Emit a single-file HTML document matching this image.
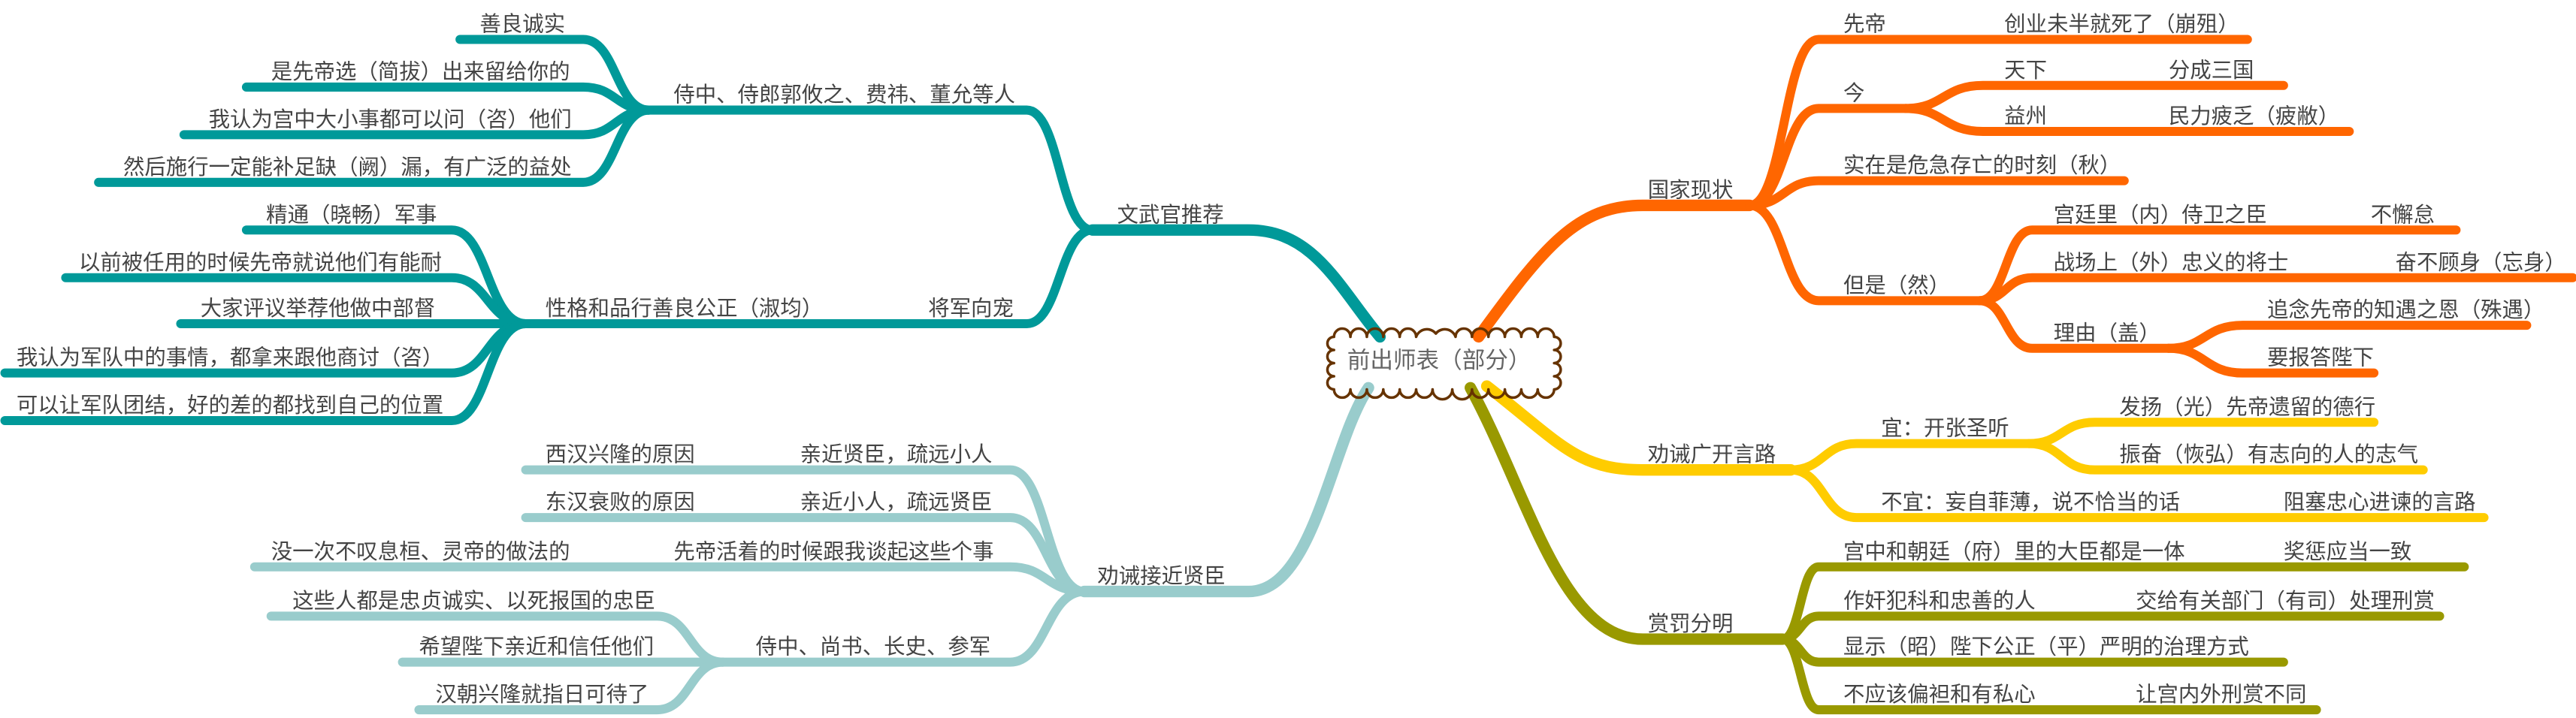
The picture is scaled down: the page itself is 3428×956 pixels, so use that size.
<!DOCTYPE html>
<html><head><meta charset="utf-8"><style>
html,body{margin:0;padding:0;background:#fff;}
svg{display:block;}
text{font-family:"Liberation Sans","Noto Sans CJK SC",sans-serif;font-size:13px;fill:#444;}
path{fill:none;stroke-linecap:round;stroke-linejoin:round;}
</style></head><body>
<svg width="3428" height="956" viewBox="0 0 1568 437" preserveAspectRatio="none" xmlns="http://www.w3.org/2000/svg">
<!-- main branches -->
<path d="M840,205 C815,175 800,140 760,140 H665" stroke="#009999" stroke-width="7"/>
<path d="M833,236 C810,270 800,360 760,360 H660" stroke="#99CCCC" stroke-width="7"/>
<path d="M900,205 C940,150 960,125 1000,125 H1065" stroke="#FF6600" stroke-width="7"/>
<path d="M905,235 C950,270 960,286 1000,286 H1090" stroke="#FFCC00" stroke-width="7"/>
<path d="M895,236 C930,300 950,389 1000,389 H1085" stroke="#999900" stroke-width="7"/>

<!-- orange -->
<g stroke="#FF6600" stroke-width="5.5">
<path d="M1065,125 C1086,125 1086,24 1107,24 H1368"/>
<path d="M1065,125 C1086,125 1086,66 1107,66 H1160"/>
<path d="M1160,66 C1183,66 1183,52 1207,52 H1390"/>
<path d="M1160,66 C1183,66 1183,80 1207,80 H1430"/>
<path d="M1065,125 C1086,125 1086,110 1107,110 H1293"/>
<path d="M1065,125 C1086,125 1086,183 1107,183 H1205"/>
<path d="M1205,183 C1221,183 1221,140 1237,140 H1495"/>
<path d="M1205,183 C1221,183 1221,169 1237,169 H1566"/>
<path d="M1205,183 C1221,183 1221,212 1237,212 H1320"/>
<path d="M1320,212 C1342,212 1342,198 1365,198 H1538"/>
<path d="M1320,212 C1342,212 1342,227 1365,227 H1445"/>
</g>
<!-- yellow -->
<g stroke="#FFCC00" stroke-width="5.5">
<path d="M1090,286 C1110,286 1110,270 1130,270 H1235"/>
<path d="M1235,270 C1255,270 1255,257 1275,257 H1445"/>
<path d="M1235,270 C1255,270 1255,286 1275,286 H1475"/>
<path d="M1090,286 C1110,286 1110,315 1130,315 H1512"/>
</g>
<!-- olive -->
<g stroke="#999900" stroke-width="5.5">
<path d="M1085,389 C1096,389 1096,345 1107,345 H1500"/>
<path d="M1085,389 C1096,389 1096,375 1107,375 H1485"/>
<path d="M1085,389 C1096,389 1096,403 1107,403 H1390"/>
<path d="M1085,389 C1096,389 1096,432 1107,432 H1410"/>
</g>
<!-- teal left -->
<g stroke="#009999" stroke-width="5.5">
<path d="M665,140 C645,140 645,67 625,67 H395"/>
<path d="M395,67 C375,67 375,24 355,24 H280"/>
<path d="M395,67 C375,67 375,53 355,53 H150"/>
<path d="M395,67 C375,67 375,82 355,82 H112"/>
<path d="M395,67 C375,67 375,111 355,111 H60"/>
<path d="M665,140 C645,140 645,197 625,197 H320"/>
<path d="M320,197 C297,197 297,140 275,140 H150"/>
<path d="M320,197 C297,197 297,169 275,169 H40"/>
<path d="M320,197 C297,197 297,197 275,197 H110"/>
<path d="M320,197 C297,197 297,227 275,227 H3"/>
<path d="M320,197 C297,197 297,256 275,256 H3"/>
</g>
<!-- light teal left -->
<g stroke="#99CCCC" stroke-width="5.5">
<path d="M660,360 C637,360 637,286 615,286 H320"/>
<path d="M660,360 C637,360 637,315 615,315 H320"/>
<path d="M660,360 C637,360 637,345 615,345 H155"/>
<path d="M660,360 C637,360 637,403 615,403 H440"/>
<path d="M440,403 C420,403 420,375 400,375 H165"/>
<path d="M440,403 C420,403 420,403 400,403 H245"/>
<path d="M440,403 C420,403 420,432 400,432 H255"/>
</g>

<!-- root cloud -->
<path d="M812,205 a5,5 0 0,1 10,0 a5,5 0 0,1 10,0 a5,5 0 0,1 10,0 a5,5 0 0,1 10,0 a5,5 0 0,1 10,0 a7,7 0 0,1 12,-2 a7,7 0 0,1 12,2 a5,5 0 0,1 10,0 a5,5 0 0,1 10,0 a5,5 0 0,1 10,0 a5,5 0 0,1 10,0 a5,5 0 0,1 10,0 a5,5 0 0,1 10,0
 a4,4 0 0,1 0,8 a4,4 0 0,1 0,8 a4,4 0 0,1 0,8 a4,4 0 0,1 0,8
 a5,5 0 0,1 -10,0 a5,5 0 0,1 -10,0 a5,5 0 0,1 -10,0 a5,5 0 0,1 -10,0 a5,5 0 0,1 -10,0 a6,6 0 0,1 -12,0 a6,6 0 0,1 -12,0 a5,5 0 0,1 -10,0 a5,5 0 0,1 -10,0 a5,5 0 0,1 -10,0 a5,5 0 0,1 -10,0 a5,5 0 0,1 -10,0 a5,5 0 0,1 -10,0
 a4,4 0 0,1 0,-8 a4,4 0 0,1 0,-8 a4,4 0 0,1 0,-8 a4,4 0 0,1 0,-8 Z" fill="#fff" stroke="#663300" stroke-width="1.6"/>
<text x="876" y="224" text-anchor="middle" style="font-size:14px;fill:#666">前出师表（部分）</text>

<!-- main labels -->
<text x="1003" y="120">国家现状</text>
<text x="1003" y="281">劝诫广开言路</text>
<text x="1003" y="384">赏罚分明</text>
<text x="680" y="135">文武官推荐</text>
<text x="668" y="355">劝诫接近贤臣</text>

<!-- orange texts -->
<text x="1122" y="19">先帝</text><text x="1220" y="19">创业未半就死了（崩殂）</text>
<text x="1122" y="61">今</text>
<text x="1220" y="47">天下</text><text x="1320" y="47">分成三国</text>
<text x="1220" y="75">益州</text><text x="1320" y="75">民力疲乏（疲敝）</text>
<text x="1122" y="105">实在是危急存亡的时刻（秋）</text>
<text x="1122" y="178">但是（然）</text>
<text x="1250" y="135">宫廷里（内）侍卫之臣</text><text x="1443" y="135">不懈怠</text>
<text x="1250" y="164">战场上（外）忠义的将士</text><text x="1458" y="164">奋不顾身（忘身）</text>
<text x="1250" y="207">理由（盖）</text>
<text x="1380" y="193">追念先帝的知遇之恩（殊遇）</text>
<text x="1380" y="222">要报答陛下</text>

<!-- yellow texts -->
<text x="1145" y="265">宜：开张圣听</text>
<text x="1290" y="252">发扬（光）先帝遗留的德行</text>
<text x="1290" y="281">振奋（恢弘）有志向的人的志气</text>
<text x="1145" y="310">不宜：妄自菲薄，说不恰当的话</text><text x="1390" y="310">阻塞忠心进谏的言路</text>

<!-- olive texts -->
<text x="1122" y="340">宫中和朝廷（府）里的大臣都是一体</text><text x="1390" y="340">奖惩应当一致</text>
<text x="1122" y="370">作奸犯科和忠善的人</text><text x="1300" y="370">交给有关部门（有司）处理刑赏</text>
<text x="1122" y="398">显示（昭）陛下公正（平）严明的治理方式</text>
<text x="1122" y="427">不应该偏袒和有私心</text><text x="1300" y="427">让宫内外刑赏不同</text>

<!-- teal left texts -->
<text x="410" y="62">侍中、侍郎郭攸之、费祎、董允等人</text>
<text x="292" y="19">善良诚实</text>
<text x="165" y="48">是先帝选（简拔）出来留给你的</text>
<text x="127" y="77">我认为宫中大小事都可以问（咨）他们</text>
<text x="75" y="106">然后施行一定能补足缺（阙）漏，有广泛的益处</text>
<text x="332" y="192">性格和品行善良公正（淑均）</text><text x="565" y="192">将军向宠</text>
<text x="162" y="135">精通（晓畅）军事</text>
<text x="48" y="164">以前被任用的时候先帝就说他们有能耐</text>
<text x="122" y="192">大家评议举荐他做中部督</text>
<text x="10" y="222">我认为军队中的事情，都拿来跟他商讨（咨）</text>
<text x="10" y="251">可以让军队团结，好的差的都找到自己的位置</text>

<!-- light teal texts -->
<text x="332" y="281">西汉兴隆的原因</text><text x="487" y="281">亲近贤臣，疏远小人</text>
<text x="332" y="310">东汉衰败的原因</text><text x="487" y="310">亲近小人，疏远贤臣</text>
<text x="165" y="340">没一次不叹息桓、灵帝的做法的</text><text x="410" y="340">先帝活着的时候跟我谈起这些个事</text>
<text x="460" y="398">侍中、尚书、长史、参军</text>
<text x="178" y="370">这些人都是忠贞诚实、以死报国的忠臣</text>
<text x="255" y="398">希望陛下亲近和信任他们</text>
<text x="265" y="427">汉朝兴隆就指日可待了</text>
</svg>
</body></html>
